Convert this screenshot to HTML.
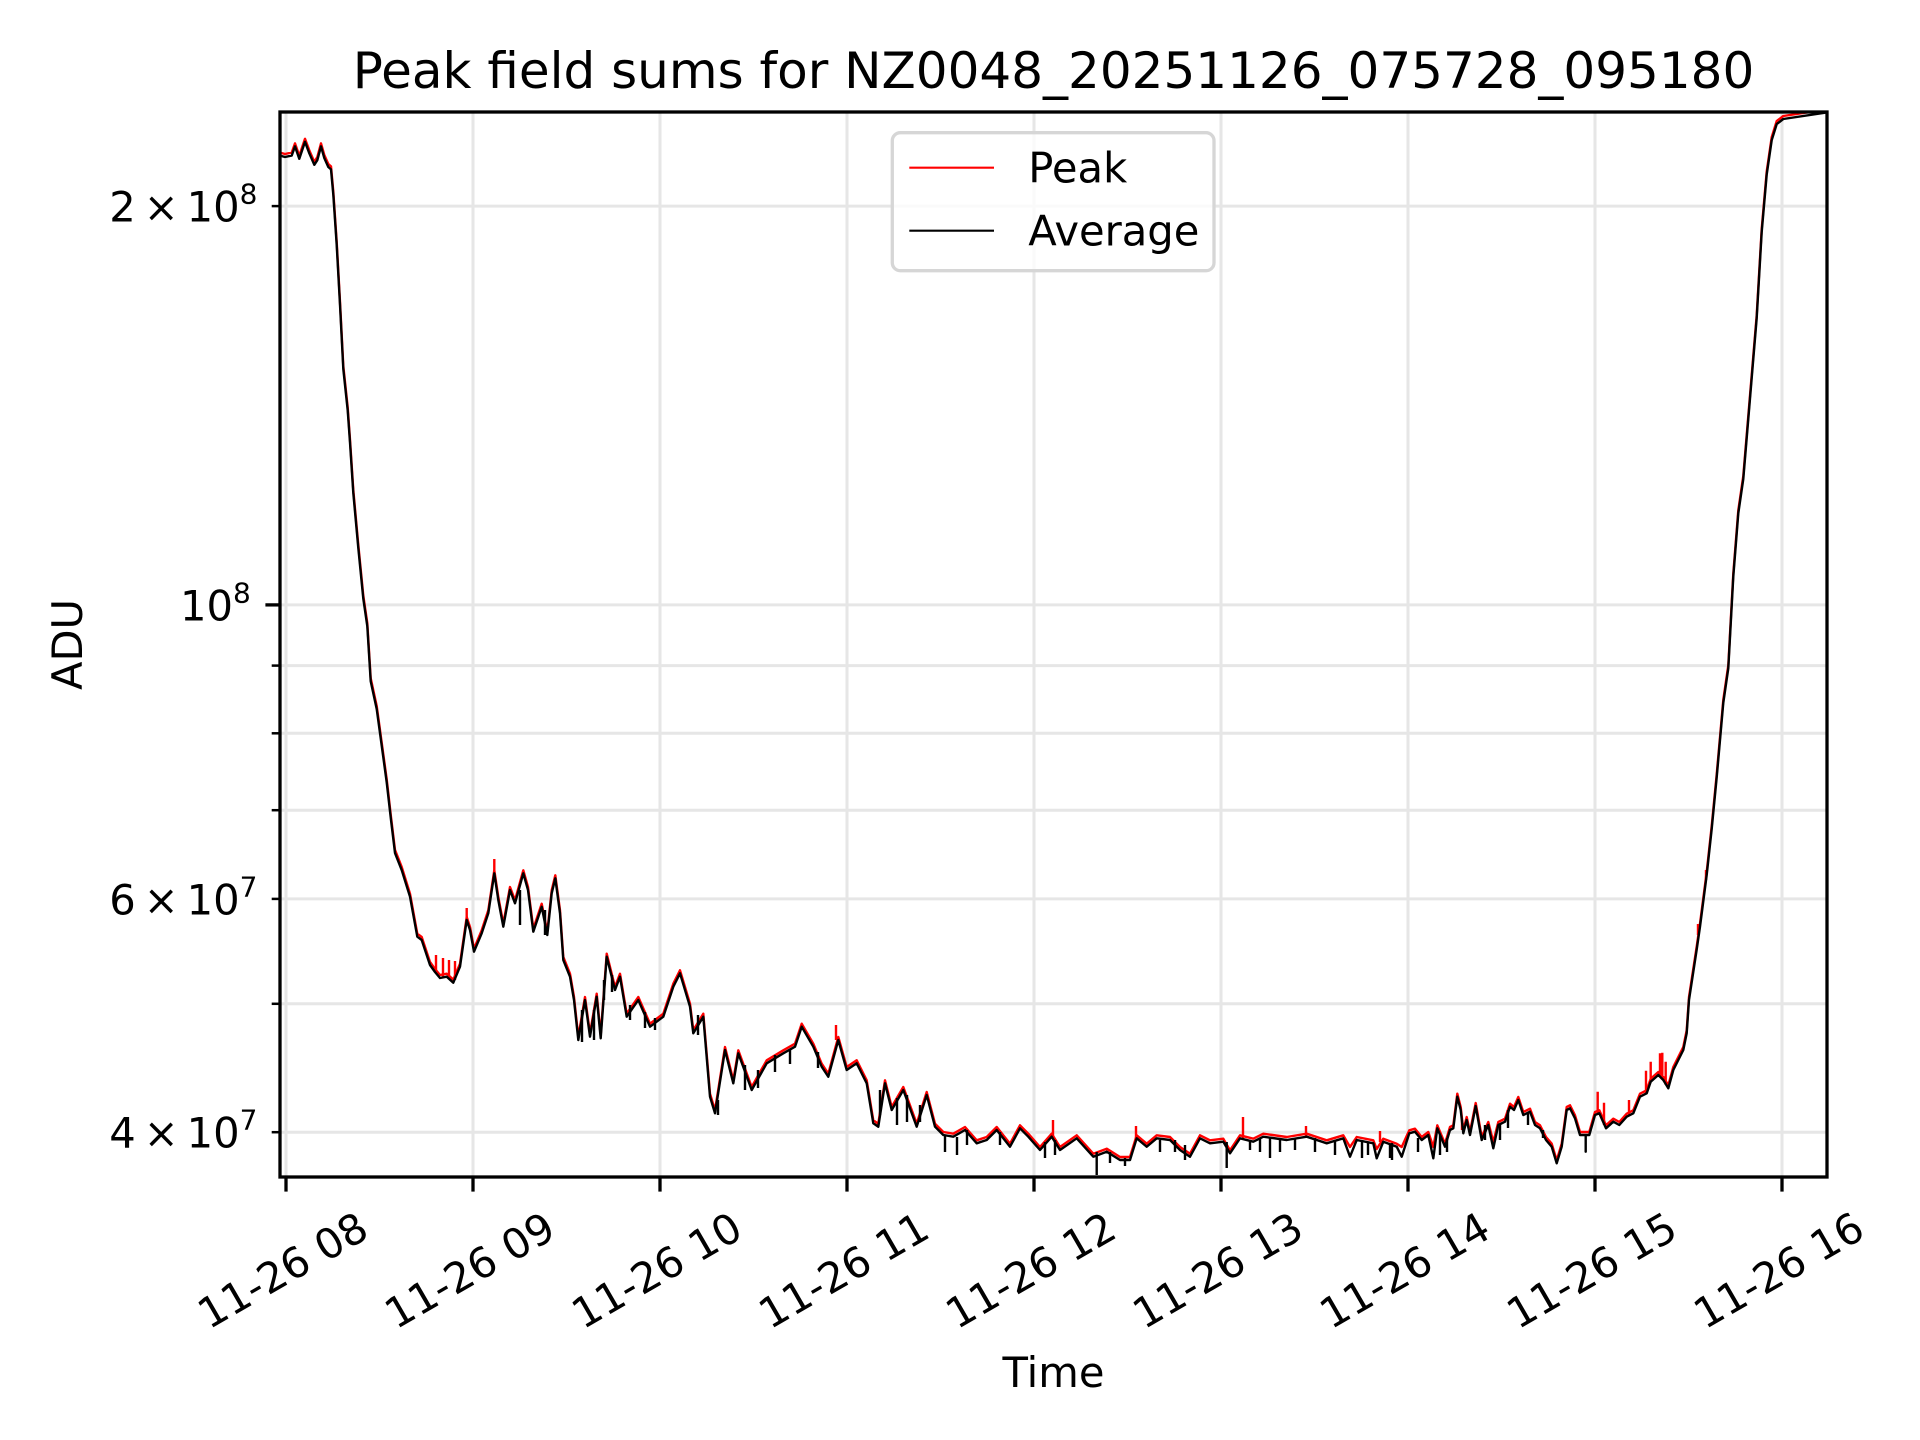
<!DOCTYPE html>
<html>
<head>
<meta charset="utf-8">
<style>
html,body{margin:0;padding:0;background:#fff;}
svg{display:block;}
</style>
</head>
<body>
<svg width="1920" height="1440" viewBox="0 0 1920 1440" xmlns="http://www.w3.org/2000/svg" font-family="'DejaVu Sans', 'Liberation Sans', sans-serif">
<rect x="0" y="0" width="1920" height="1440" fill="#ffffff"/>
<defs>
<clipPath id="c"><rect x="280" y="112" width="1547" height="1065"/></clipPath>
</defs>

<!-- grid -->
<g stroke="#e6e6e6" stroke-width="3" fill="none">
<line x1="286" y1="112" x2="286" y2="1177"/>
<line x1="473" y1="112" x2="473" y2="1177"/>
<line x1="660" y1="112" x2="660" y2="1177"/>
<line x1="847" y1="112" x2="847" y2="1177"/>
<line x1="1034" y1="112" x2="1034" y2="1177"/>
<line x1="1221" y1="112" x2="1221" y2="1177"/>
<line x1="1408" y1="112" x2="1408" y2="1177"/>
<line x1="1595" y1="112" x2="1595" y2="1177"/>
<line x1="1782" y1="112" x2="1782" y2="1177"/>
<line x1="280" y1="206.1" x2="1827" y2="206.1"/>
<line x1="280" y1="604.9" x2="1827" y2="604.9"/>
<line x1="280" y1="665.6" x2="1827" y2="665.6"/>
<line x1="280" y1="733.3" x2="1827" y2="733.3"/>
<line x1="280" y1="810.2" x2="1827" y2="810.2"/>
<line x1="280" y1="898.9" x2="1827" y2="898.9"/>
<line x1="280" y1="1003.8" x2="1827" y2="1003.8"/>
<line x1="280" y1="1132.2" x2="1827" y2="1132.2"/>
</g>

<g clip-path="url(#c)" fill="none" stroke-linejoin="round" stroke-linecap="butt" stroke-width="2.4">
<!-- Peak (red) -->
<g stroke="#ff0000">
<polyline transform="translate(0,-3)" points="280,155.6 285,157 291.7,155.6 295,146.4 299.3,158.8 305,141.8 309.3,153.3 314.3,164.8 317.3,160.2 321,146.4 324.3,158 328.3,167 331,169.4 333.3,194.6 336.7,245 340,304.8 343.3,369 347.7,410.4 350,442.6 353.3,493 358.3,548 363.3,598.7 367.3,626.2 370.7,681.3 376.7,709 381.7,745.6 386.7,782.3 391,820 395,853 401.7,870 410,896.7 417.3,936.7 421.7,940 430,965 435,972 440,978 446.7,976.7 453.3,982.7 460,966.7 466.7,920 470,930 474,951.7 481.7,933.3 488.3,913.3 494.3,873.3 498.3,900 503.3,926.7 510,890 515,903.3 523.3,873.3 528,890 533.3,931.7 541.7,906.7 547.3,935 551.7,893.3 555.3,878.3 560,913.3 563.3,960 570,976.7 574,1000 578.3,1040 585,1000 590,1036.7 596.7,996.7 600.7,1038.3 606.7,956.7 615,990 620,976.7 626.7,1016.7 638.3,1000 650,1026.7 663.3,1016.7 673.3,986.7 680,973.3 690,1006.7 693.3,1033.3 703.3,1016.7 710,1096.7 715,1113.3 725,1050 733.3,1083.3 738.3,1053.3 751.7,1090 766.7,1063.3 783.3,1053.3 795,1046.7 801.7,1026.7 813.3,1046.7 821.7,1066.7 828.3,1076.7 838.3,1040 846.7,1070 856.7,1063.3 866.7,1083.3 873.3,1123.3 878.3,1126.7 885,1083.3 891.7,1110 903.3,1090 916.7,1126.7 926.7,1095 935,1126.7 943.3,1135 953.3,1136.7 965,1130 976.7,1143.3 986.7,1140 996.7,1130 1010,1146.7 1020,1128.3 1028.3,1136.7 1040,1150 1051.7,1136.7 1060,1150 1076.7,1138.3 1093.3,1156.7 1106.7,1151.7 1120,1160 1130,1160 1136.7,1138.3 1146.7,1146.7 1156.7,1138.3 1170,1140 1180,1150 1190,1156.7 1200,1138.3 1210,1143.3 1223.3,1141.7 1230,1153.3 1240,1138.3 1253.3,1141.7 1263.3,1136.7 1286.7,1140 1306.7,1136.7 1326.7,1143.3 1343.3,1138.3 1350,1150 1356.7,1140 1373.3,1143.3 1376.7,1152 1383.3,1141.7 1396.7,1146.7 1401.7,1150 1409.3,1133.3 1415,1131.7 1421.7,1140 1428.3,1135 1433.3,1150 1437.3,1128.3 1445,1146.7 1450,1130 1453.3,1128.3 1457.3,1096.7 1460.7,1110 1463.3,1133.3 1466.7,1120 1470,1135 1475.7,1106 1481.7,1140 1488.3,1125 1493.3,1145 1498.3,1125 1505,1121.7 1510,1106.7 1514,1110 1518.3,1100 1523.3,1115 1530,1111.7 1535,1125 1540,1128.3 1546,1140 1551.7,1146.7 1556.7,1163.3 1561.7,1146.7 1566.7,1110 1570,1108.3 1575,1118.3 1580,1135 1589.3,1135 1595,1115 1599.3,1113.3 1606,1128.3 1613.3,1121.7 1619.3,1125 1626.7,1116.7 1633.3,1113.3 1640,1096.7 1646.7,1093.3 1650.7,1081.7 1658.3,1075 1663.3,1080 1668.3,1088.3 1673.3,1070 1678.3,1060 1683.3,1050 1686.7,1033.3 1689,1000 1696.7,949.6 1700,926.7 1706.7,875 1711.7,829 1716.7,777.4 1723.3,702.8 1728.3,668.3 1733.3,576.5 1738.3,513.3 1743.3,478.9 1750,398.5 1756.7,318.1 1761.7,232 1766.7,174.6 1771.7,140.2 1776.7,124.1 1783.3,119 1826,112.6 1830,112.4"/>
<path d="M1053,1137 L1053,1120 M1136,1140 L1136,1126 M1243,1138 L1243,1117 M1597.7,1114 L1597.7,1091.7 M1604,1125 L1604,1102.7 M1629,1115 L1629,1100 M1646,1093 L1646,1070.7 M1650.7,1082 L1650.7,1061.7 M1660,1075 L1660,1053.3 M1662.3,1075 L1662.3,1052.7 M1665.7,1085 L1665.7,1061.7 M494.3,873 L494.3,859 M466.7,920 L466.7,908 M436,972 L436,955 M443,977 L443,958 M449,977 L449,960 M455,980 L455,961 M836,1040 L836,1025 M1306,1136 L1306,1126 M1380,1142 L1380,1131 M1462,1130 L1462,1120 M1698,935 L1698,924 M1706,880 L1706,870"/>
</g>
<!-- Average (black) -->
<g stroke="#000000">
<polyline points="280,155.6 285,157 291.7,155.6 295,146.4 299.3,158.8 305,141.8 309.3,153.3 314.3,164.8 317.3,160.2 321,146.4 324.3,158 328.3,167 331,169.4 333.3,194.6 336.7,245 340,304.8 343.3,369 347.7,410.4 350,442.6 353.3,493 358.3,548 363.3,598.7 367.3,626.2 370.7,681.3 376.7,709 381.7,745.6 386.7,782.3 391,820 395,853 401.7,870 410,896.7 417.3,936.7 421.7,940 430,965 435,972 440,978 446.7,976.7 453.3,982.7 460,966.7 466.7,920 470,930 474,951.7 481.7,933.3 488.3,913.3 494.3,873.3 498.3,900 503.3,926.7 510,890 515,903.3 523.3,873.3 528,890 533.3,931.7 541.7,906.7 547.3,935 551.7,893.3 555.3,878.3 560,913.3 563.3,960 570,976.7 574,1000 578.3,1040 585,1000 590,1036.7 596.7,996.7 600.7,1038.3 606.7,956.7 615,990 620,976.7 626.7,1016.7 638.3,1000 650,1026.7 663.3,1016.7 673.3,986.7 680,973.3 690,1006.7 693.3,1033.3 703.3,1016.7 710,1096.7 715,1113.3 725,1050 733.3,1083.3 738.3,1053.3 751.7,1090 766.7,1063.3 783.3,1053.3 795,1046.7 801.7,1026.7 813.3,1046.7 821.7,1066.7 828.3,1076.7 838.3,1040 846.7,1070 856.7,1063.3 866.7,1083.3 873.3,1123.3 878.3,1126.7 885,1083.3 891.7,1110 903.3,1090 916.7,1126.7 926.7,1095 935,1126.7 943.3,1135 953.3,1136.7 965,1130 976.7,1143.3 986.7,1140 996.7,1130 1010,1146.7 1020,1128.3 1028.3,1136.7 1040,1150 1051.7,1136.7 1060,1150 1076.7,1138.3 1093.3,1156.7 1106.7,1151.7 1120,1160 1130,1160 1136.7,1138.3 1146.7,1146.7 1156.7,1138.3 1170,1140 1180,1150 1190,1156.7 1200,1138.3 1210,1143.3 1223.3,1141.7 1230,1153.3 1240,1138.3 1253.3,1141.7 1263.3,1136.7 1286.7,1140 1306.7,1136.7 1326.7,1143.3 1343.3,1138.3 1350,1156.7 1356.7,1140 1373.3,1143.3 1376.7,1158.3 1383.3,1141.7 1396.7,1146.7 1401.7,1156.7 1409.3,1133.3 1415,1131.7 1421.7,1140 1428.3,1135 1433.3,1158.3 1437.3,1128.3 1445,1146.7 1450,1130 1453.3,1128.3 1457.3,1096.7 1460.7,1110 1463.3,1133.3 1466.7,1120 1470,1135 1475.7,1106 1481.7,1140 1488.3,1125 1493.3,1148.3 1498.3,1125 1505,1121.7 1510,1106.7 1514,1110 1518.3,1100 1523.3,1115 1530,1111.7 1535,1125 1540,1128.3 1546,1140 1551.7,1146.7 1556.7,1163.3 1561.7,1146.7 1566.7,1110 1570,1108.3 1575,1118.3 1580,1135 1585.7,1135 1585.7,1151.7 1585.7,1135 1589.3,1135 1595,1115 1599.3,1113.3 1606,1128.3 1613.3,1121.7 1619.3,1125 1626.7,1116.7 1633.3,1113.3 1640,1096.7 1646.7,1093.3 1650.7,1081.7 1658.3,1075 1663.3,1080 1668.3,1088.3 1673.3,1070 1678.3,1060 1683.3,1050 1686.7,1033.3 1689,1000 1696.7,949.6 1700,926.7 1706.7,875 1711.7,829 1716.7,777.4 1723.3,702.8 1728.3,668.3 1733.3,576.5 1738.3,513.3 1743.3,478.9 1750,398.5 1756.7,318.1 1761.7,232 1766.7,174.6 1771.7,140.2 1776.7,124.1 1783.3,119 1826,112.6 1830,112.4"/>
<path d="M880,1090 L880,1115 M897,1098 L897,1125 M907,1095 L907,1122 M920,1105 L920,1122 M945,1135 L945,1152 M957,1137 L957,1155 M967,1130 L967,1145 M1000,1132 L1000,1145 M1045,1142 L1045,1158 M1055,1140 L1055,1155 M1096.7,1152 L1096.7,1175 M1110,1152 L1110,1163 M1125,1158 L1125,1166 M1160,1140 L1160,1152 M1175,1140 L1175,1152 M1185,1145 L1185,1160 M1226.7,1142 L1226.7,1168 M1250,1140 L1250,1150 M1260,1138 L1260,1152 M1270,1138 L1270,1158 M1280,1140 L1280,1152 M1295,1138 L1295,1150 M1315,1138 L1315,1152 M1335,1140 L1335,1155 M1362,1140 L1362,1158 M1368,1142 L1368,1155 M1390,1145 L1390,1158 M1392,1143 L1392,1160 M1418,1138 L1418,1152 M1440,1135 L1440,1155 M1447,1138 L1447,1152 M1485,1125 L1485,1140 M1500,1125 L1500,1140 M1508,1110 L1508,1128 M1528,1112 L1528,1125 M1543,1130 L1543,1138 M582,1010 L582,1042 M594,1010 L594,1040 M604,980 L604,1000 M612,975 L612,992 M630,1005 L630,1020 M645,1012 L645,1028 M655,1018 L655,1030 M698,1015 L698,1035 M718,1100 L718,1115 M745,1065 L745,1090 M758,1070 L758,1088 M775,1055 L775,1072 M790,1050 L790,1064 M818,1052 L818,1068 M545,910 L545,935 M520,890 L520,925"/>
</g>
</g>

<!-- spines -->
<rect x="280" y="112" width="1547" height="1065" fill="none" stroke="#000" stroke-width="3.3"/>

<!-- x ticks -->
<g stroke="#000" stroke-width="3.3">
<line x1="286" y1="1177" x2="286" y2="1191.6"/>
<line x1="473" y1="1177" x2="473" y2="1191.6"/>
<line x1="660" y1="1177" x2="660" y2="1191.6"/>
<line x1="847" y1="1177" x2="847" y2="1191.6"/>
<line x1="1034" y1="1177" x2="1034" y2="1191.6"/>
<line x1="1221" y1="1177" x2="1221" y2="1191.6"/>
<line x1="1408" y1="1177" x2="1408" y2="1191.6"/>
<line x1="1595" y1="1177" x2="1595" y2="1191.6"/>
<line x1="1782" y1="1177" x2="1782" y2="1191.6"/>
<line x1="280" y1="604.9" x2="265.4" y2="604.9"/>
</g>
<g stroke="#000" stroke-width="2.5">
<line x1="280" y1="206.1" x2="271.7" y2="206.1"/>
<line x1="280" y1="665.6" x2="271.7" y2="665.6"/>
<line x1="280" y1="733.3" x2="271.7" y2="733.3"/>
<line x1="280" y1="810.2" x2="271.7" y2="810.2"/>
<line x1="280" y1="898.9" x2="271.7" y2="898.9"/>
<line x1="280" y1="1003.8" x2="271.7" y2="1003.8"/>
<line x1="280" y1="1132.2" x2="271.7" y2="1132.2"/>
</g>

<!-- x tick labels -->
<g font-size="41.67" fill="#000" text-anchor="middle">
<text transform="translate(290,1283) rotate(-30)">11-26 08</text>
<text transform="translate(477,1283) rotate(-30)">11-26 09</text>
<text transform="translate(664,1283) rotate(-30)">11-26 10</text>
<text transform="translate(851,1283) rotate(-30)">11-26 11</text>
<text transform="translate(1038,1283) rotate(-30)">11-26 12</text>
<text transform="translate(1225,1283) rotate(-30)">11-26 13</text>
<text transform="translate(1412,1283) rotate(-30)">11-26 14</text>
<text transform="translate(1599,1283) rotate(-30)">11-26 15</text>
<text transform="translate(1786,1283) rotate(-30)">11-26 16</text>
</g>

<!-- y tick labels -->
<g font-size="41.67" fill="#000" text-anchor="end">
<text x="257.5" y="221.6">2<tspan dx="8">×</tspan><tspan dx="8">10</tspan><tspan dy="-18" font-size="28">8</tspan></text>
<text x="250.8" y="620.4">10<tspan dy="-18" font-size="28">8</tspan></text>
<text x="257.5" y="914.4">6<tspan dx="8">×</tspan><tspan dx="8">10</tspan><tspan dy="-18" font-size="28">7</tspan></text>
<text x="257.5" y="1147.7">4<tspan dx="8">×</tspan><tspan dx="8">10</tspan><tspan dy="-18" font-size="28">7</tspan></text>
</g>

<!-- axis labels -->
<text x="1053.5" y="1387" font-size="41.67" text-anchor="middle" fill="#000">Time</text>
<text transform="translate(82,644.5) rotate(-90)" font-size="41.67" text-anchor="middle" fill="#000">ADU</text>

<!-- title -->
<text x="1053.5" y="88" font-size="50" text-anchor="middle" fill="#000">Peak field sums for NZ0048_20251126_075728_095180</text>

<!-- legend -->
<rect x="892.3" y="132.7" width="321.7" height="138" rx="8" ry="8" fill="#ffffff" fill-opacity="0.8" stroke="#d6d6d6" stroke-width="3.3"/>
<line x1="909.3" y1="167.7" x2="994" y2="167.7" stroke="#ff0000" stroke-width="2.1"/>
<line x1="909.3" y1="230.7" x2="994" y2="230.7" stroke="#000000" stroke-width="2.1"/>
<text x="1028.3" y="182.7" font-size="41.67" fill="#000">Peak</text>
<text x="1028.3" y="245.5" font-size="41.67" fill="#000">Average</text>
</svg>
</body>
</html>
